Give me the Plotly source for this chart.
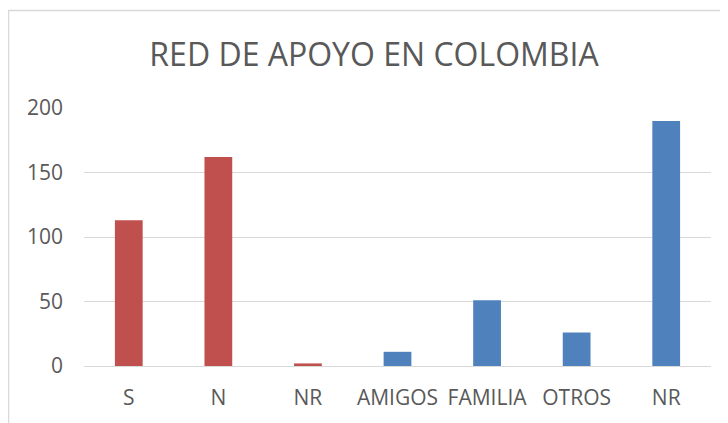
import plotly.graph_objects as go

categories = ["S", "N", "NR", "AMIGOS", "FAMILIA", "OTROS", "NR"]
values = [113, 162, 2, 11, 51, 26, 190]
group_a_count = 3  # first three bars (red), rest blue
y_ticks = [0, 50, 100, 150, 200]

positions = list(range(len(categories)))

# page renders with an 8px body offset; compensate
OFF = 8
W, H = 728, 423
L, R, T, B = 84 - OFF, 17 + OFF, 108 - OFF, 57 + OFF
pw, ph = W - L - R, H - T - B

def px_x(px):
    return (px - OFF - L) / pw

def px_y(py):
    return (H - B - (py - OFF)) / ph

fig = go.Figure()
fig.add_trace(go.Bar(
    x=positions[:group_a_count], y=values[:group_a_count],
    marker=dict(color="#C0504D", line=dict(width=0)), width=0.31,
))
fig.add_trace(go.Bar(
    x=positions[group_a_count:], y=values[group_a_count:],
    marker=dict(color="#4F81BD", line=dict(width=0)), width=0.31,
))

font_family = "Open Sans"
fig.update_layout(
    width=W, height=H,
    margin=dict(l=L, r=R, t=T, b=B, pad=0),
    paper_bgcolor="white", plot_bgcolor="white",
    showlegend=False,
    barmode="overlay",
    title=dict(text="RED DE APOYO EN COLOMBIA", x=(374 - OFF) / W, xref="container",
               y=1 - (55 - OFF) / H, yref="container", xanchor="center", yanchor="middle",
               font=dict(family=font_family, size=32, color="#595959")),
    xaxis=dict(range=[-0.5, len(categories) - 0.5], tickmode="array",
               tickvals=positions, ticktext=categories, showgrid=False,
               zeroline=False, showline=False, ticks="", ticklabelstandoff=17,
               tickfont=dict(family=font_family, size=21, color="#595959")),
    yaxis=dict(range=[0, 200], tickmode="array", tickvals=y_ticks,
               showgrid=True, gridcolor="#d9d9d9", gridwidth=1.3,
               zeroline=True, zerolinecolor="#d9d9d9", zerolinewidth=1.3,
               showline=False, ticks="", ticklabelstandoff=20,
               tickfont=dict(family=font_family, size=21, color="#595959")),
    shapes=[dict(type="rect", xref="paper", yref="paper",
                 x0=px_x(8.5), x1=px_x(760), y0=px_y(460), y1=px_y(10.5),
                 line=dict(color="#d9d9d9", width=1.5), fillcolor="rgba(0,0,0,0)",
                 layer="below")],
)

fig.write_html("out.html")
